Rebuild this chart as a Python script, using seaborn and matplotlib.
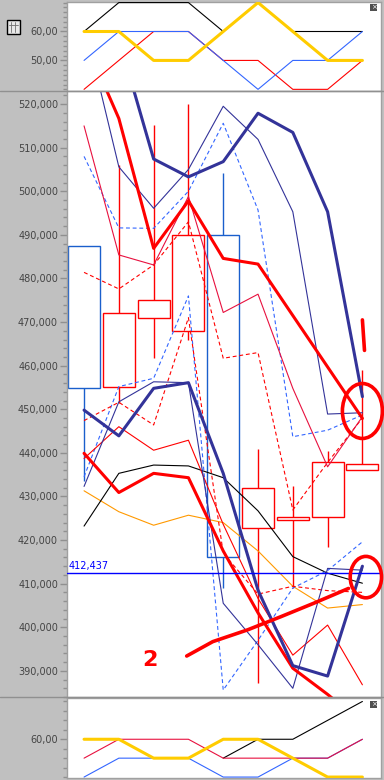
import numpy as np
import pandas as pd
import matplotlib
matplotlib.use("Agg")
import matplotlib.pyplot as plt
import seaborn as sns
from matplotlib.patches import Rectangle, Ellipse
from matplotlib.lines import Line2D
from matplotlib.ticker import MultipleLocator, FuncFormatter

# ---- data ----
bars = list(range(9))

# candles (price in thousands, shown with 3 decimals)
c_open = [487.5, 455.2, 470.9, 467.9, 490.0, 422.7, 424.7, 425.2, 436.0]
c_high = [487.5, 506.0, 515.2, 520.0, 504.3, 440.9, 432.4, 440.5, 459.0]
c_low = [433.6, 451.5, 461.8, 466.0, 409.0, 387.1, 409.0, 418.3, 436.0]
c_close = [454.8, 472.0, 475.0, 490.0, 416.2, 431.9, 425.2, 437.8, 437.4]

navy_thick_up = [550.0, 535.0, 507.4, 503.3, 506.8, 517.9, 513.5, 495.3, 452.9]
navy_thick_lo = [449.8, 443.9, 454.8, 456.1, 435.3, 408.5, 391.2, 388.8, 414.0]
navy_thin_up = [538.8, 505.6, 496.1, 505.0, 519.5, 511.9, 495.3, 448.9, 449.2]
navy_thin_lo = [432.3, 451.7, 456.3, 456.1, 405.5, 396.0, 386.0, 413.5, 413.1]
red_thick_up = [535.0, 516.7, 486.9, 497.8, 484.6, 483.3, 471.5, 459.7, 447.9]
red_thick_lo = [439.9, 430.9, 435.3, 434.3, 417.5, 403.3, 390.6, 384.6, 378.0]
crimson_thin = [515.0, 485.4, 483.1, 498.8, 472.2, 476.4, 454.8, 436.8, 448.3]
red_thin = [438.7, 446.0, 440.6, 442.9, 423.6, 406.6, 393.6, 400.5, 386.8]
red_dash_up = [481.4, 477.6, 483.1, 493.0, 461.7, 463.0, 426.9, 437.8, 448.0]
red_dash_lo = [447.4, 451.6, 446.4, 471.0, 417.0, 407.6, 409.4, 408.4, 408.0]
blue_dash_up = [508.0, 491.6, 491.5, 500.0, 515.6, 495.7, 443.7, 445.2, 448.7]
blue_dash_lo = [434.5, 455.2, 457.1, 476.0, 385.6, 397.0, 409.0, 413.0, 419.6]
black_line = [423.2, 435.3, 437.2, 437.0, 434.3, 426.7, 416.2, 412.4, 410.1]
orange_line = [431.3, 426.5, 423.4, 425.7, 424.0, 417.5, 409.4, 404.4, 405.2]
last_price = 412.437

top_red = [40, 50, 60, 60, 50, 50, 40, 40, 50]
top_black = [60, 70, 70, 70, 60, 70, 60, 60, 60]
top_blue = [50, 60, 60, 60, 50, 40, 50, 50, 60]
top_yellow = [60, 60, 50, 50, 60, 70, 60, 50, 50]

bot_black = [np.nan, np.nan, np.nan, np.nan, 50, 60, 60, 70, 80]
bot_blue = [40, 50, 50, 50, 40, 40, 50, 50, 60]
bot_crimson = [50, 60, 60, 60, 50, 50, 50, 50, 60]
bot_yellow = [60, 60, 50, 50, 60, 60, 50, 40, 40]

# ---- style ----
sns.set_style("white")
plt.rcParams["font.family"] = ["DejaVu Sans"]

NAVY = "#333399"
RED = "#ff0000"
CRIMSON = "#e8113f"
BLUE = "#3366ff"
CANDLE_BLUE = "#1a5fcc"
YELLOW = "#ffcc00"
ORANGE = "#ff9900"
GRAY_BG = "#c0c0c0"

W, H = 384, 780
fig = plt.figure(figsize=(W / 100, H / 100), dpi=100, facecolor=GRAY_BG)


def px_axes(x0, y0, x1, y1):
    return fig.add_axes([x0 / W, (H - y1) / H, (x1 - x0) / W, (y1 - y0) / H])


ax_top = px_axes(67, 2, 380.5, 90.5)
ax = px_axes(67, 91, 380.5, 697)
ax_bot = px_axes(67, 697.5, 380.5, 778)


def line(a, vals, color, lw=0.8, ls="-", z=3):
    sns.lineplot(x=bars, y=vals, ax=a, color=color, linewidth=lw,
                 linestyle=ls, zorder=z, legend=False)


# ---- main panel: candles ----
body_w = 0.92
for i in bars:
    o, h, l, c = c_open[i], c_high[i], c_low[i], c_close[i]
    col = RED if c >= o else CANDLE_BLUE
    lo_b, hi_b = min(o, c), max(o, c)
    if h > hi_b:
        ax.vlines(i, hi_b, h, color=col, lw=1.0, zorder=2)
    if l < lo_b:
        ax.vlines(i, l, lo_b, color=col, lw=1.0, zorder=2)
    ax.add_patch(Rectangle((i - body_w / 2, lo_b), body_w, hi_b - lo_b,
                           facecolor="white", edgecolor=col, lw=1.0, zorder=2))

dash = (0, (3.5, 2.5))
line(ax, orange_line, ORANGE)
line(ax, black_line, "black")
line(ax, blue_dash_up, BLUE, ls=dash)
line(ax, blue_dash_lo, BLUE, ls=dash)
line(ax, red_dash_up, RED, ls=dash)
line(ax, red_dash_lo, RED, ls=dash)
line(ax, red_thin, RED)
line(ax, crimson_thin, CRIMSON)
line(ax, navy_thin_up, NAVY)
line(ax, navy_thin_lo, NAVY)
line(ax, red_thick_up, RED, lw=2.2, z=4)
line(ax, red_thick_lo, RED, lw=2.2, z=4)
line(ax, navy_thick_up, NAVY, lw=2.2, z=4)
line(ax, navy_thick_lo, NAVY, lw=2.2, z=4)

ax.axhline(last_price, color="#0000ff", lw=1.0, zorder=5)
ax.text(-0.45, last_price + 0.4, f"{last_price:.3f}".replace(".", ","),
        color="#0000ff", fontsize=7, va="bottom", ha="left", zorder=6)

ax.set_ylim(384.0, 523.0)
ax.yaxis.set_major_locator(MultipleLocator(10))
ax.yaxis.set_minor_locator(MultipleLocator(2))
ax.yaxis.set_major_formatter(FuncFormatter(lambda v, p: f"{v:.3f}".replace(".", ",")))

# hand-drawn markup on the screenshot
mk = dict(color=RED, lw=2.6, zorder=10, clip_on=False)
ax.add_patch(Ellipse((8.0, 449.6), 1.15, 12.6, fill=False, ec=RED, lw=2.6,
                     zorder=10, clip_on=False))
ax.plot([8.0, 8.06], [470.5, 463.5], **mk)
ax.add_patch(Ellipse((8.1, 411.5), 0.9, 9.5, fill=False, ec=RED, lw=2.6,
                     zorder=10, clip_on=False))
ax.plot([2.95, 3.7, 4.7, 5.65, 6.6, 7.6], [393.4, 396.7, 399.4, 402.4, 405.5, 408.9], **mk)
ax.text(1.9, 392.5, "2", color=RED, fontsize=16, ha="center", va="center",
        fontweight="bold", zorder=10)

# ---- top panel ----
line(ax_top, top_red, RED)
line(ax_top, top_black, "black")
line(ax_top, top_blue, BLUE)
line(ax_top, top_yellow, YELLOW, lw=2.2)
ax_top.set_ylim(39.6, 70.2)
ax_top.set_yticks([50, 60])
ax_top.yaxis.set_minor_locator(MultipleLocator(10 / 6))

# ---- bottom panel ----
line(ax_bot, bot_black, "black")
line(ax_bot, bot_blue, BLUE)
line(ax_bot, bot_crimson, CRIMSON)
line(ax_bot, bot_yellow, YELLOW, lw=2.2)
ax_bot.set_ylim(39.5, 82.1)
ax_bot.set_yticks([60])
ax_bot.yaxis.set_minor_locator(MultipleLocator(5))

for a in (ax_top, ax_bot):
    a.yaxis.set_major_formatter(FuncFormatter(lambda v, p: f"{v:.2f}".replace(".", ",")))

for a in (ax_top, ax, ax_bot):
    a.set_xlim(-0.49, 8.52)
    a.set_xticks([])
    a.set_xlabel("")
    a.set_ylabel("")
    a.set_facecolor("white")
    for s in a.spines.values():
        s.set_color("#a0a0a0")
        s.set_linewidth(1.0)
    a.tick_params(axis="y", which="major", left=True, length=5, width=1,
                  color="#909090", labelsize=7, labelcolor="#444444", pad=1.5)
    a.tick_params(axis="y", which="minor", left=True, length=3, width=1,
                  color="#909090")

# panel separators across the full width
for yy in (90.7, 697.2):
    fig.add_artist(Line2D([0, 1], [(H - yy) / H] * 2, color="#909090", lw=1.0))

# small widgets: grid icon and close boxes
fig.add_artist(Rectangle((7 / W, (H - 33.5) / H), 12.5 / W, 13 / H,
                         facecolor="#e8e8e8", edgecolor="black", lw=1.0))
for k in (1, 2):
    fig.add_artist(Line2D([(7 + 12.5 * k / 3) / W] * 2, [(H - 31.5) / H, (H - 22) / H],
                          color="#707070", lw=0.6))
fig.add_artist(Line2D([9 / W, 17.5 / W], [(H - 25) / H] * 2, color="#707070", lw=0.6))
for yy in (4, 700.5):
    fig.add_artist(Rectangle((370 / W, (H - yy - 7) / H), 7 / W, 7 / H,
                             facecolor="#505050", edgecolor="none"))
    fig.text(373.5 / W, (H - yy - 3.5) / H, "×", color="white", fontsize=5,
             ha="center", va="center")

fig.savefig("out.png", dpi=100, facecolor=GRAY_BG)
